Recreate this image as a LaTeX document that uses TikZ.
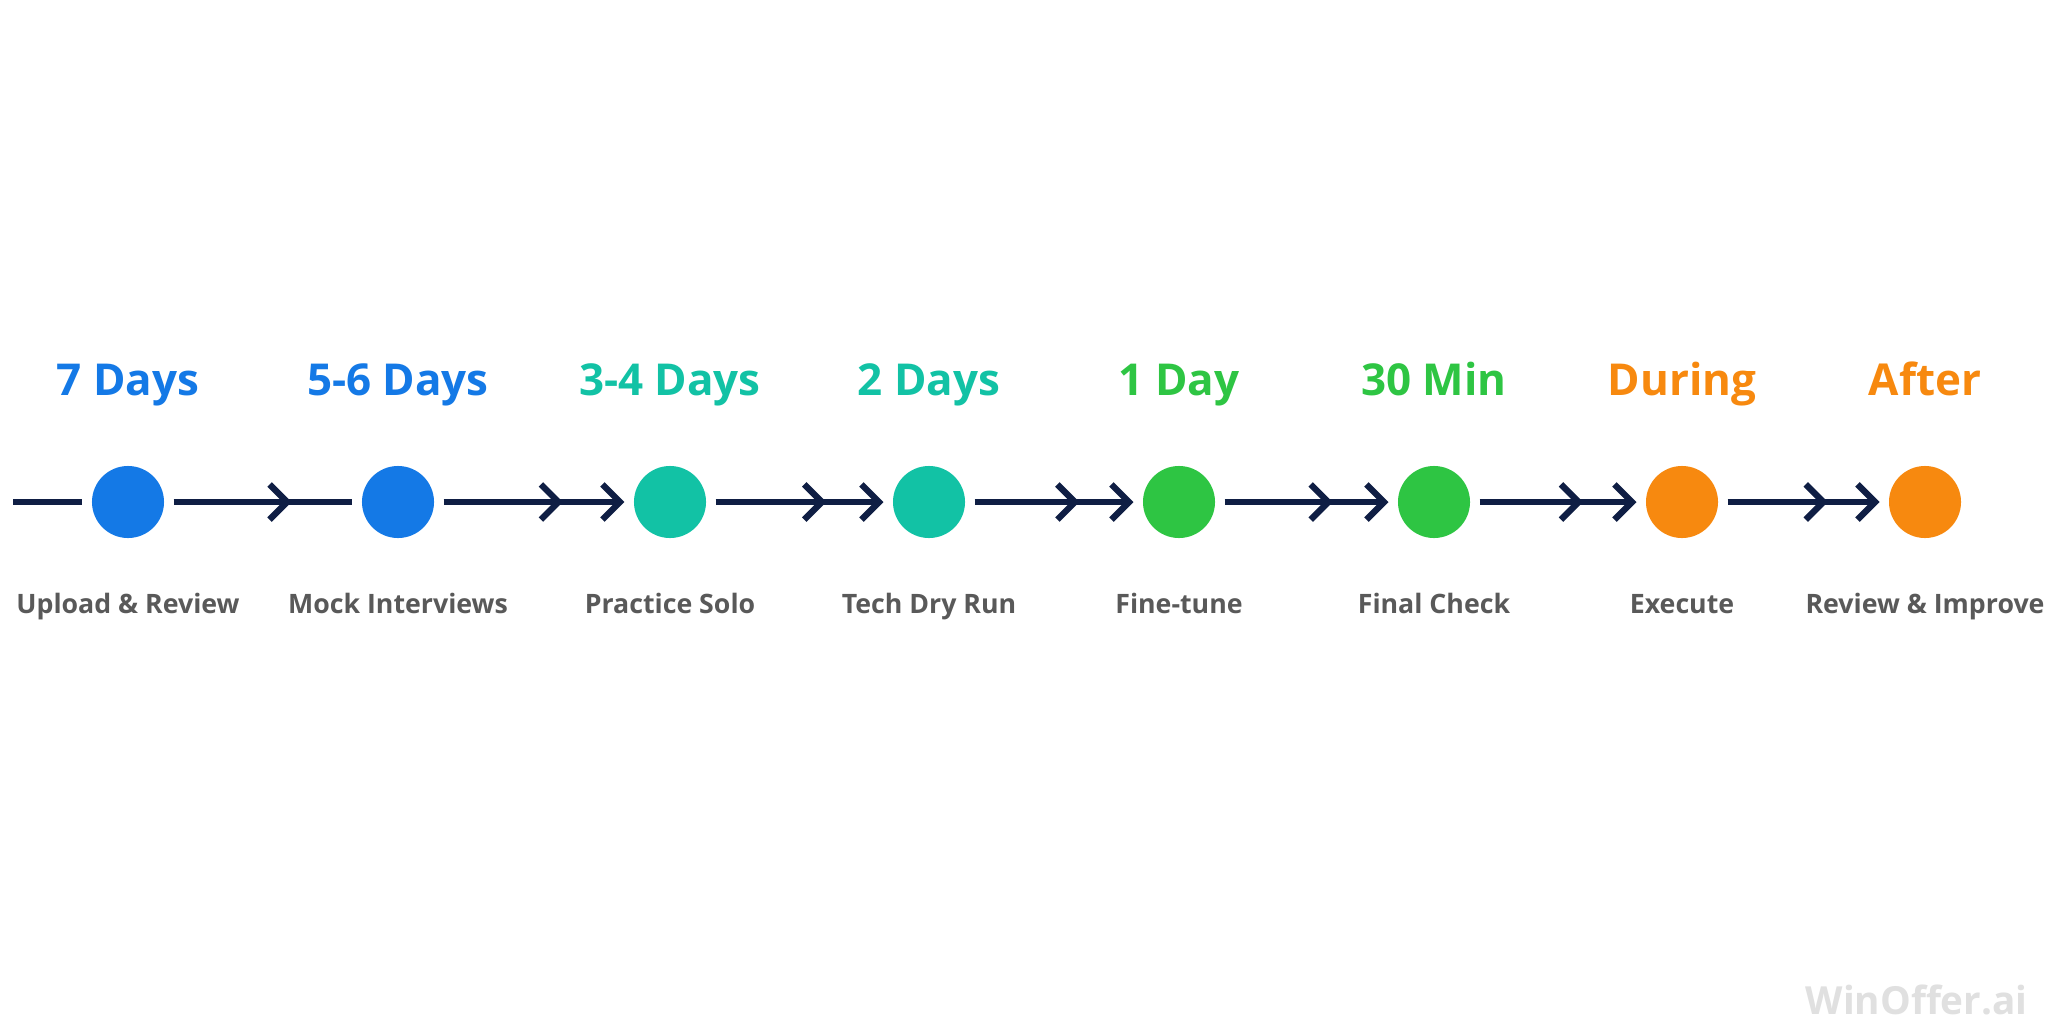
\documentclass[tikz,border=0pt]{standalone}
\usepackage{fontspec}
\setmainfont{Open Sans}
\usetikzlibrary{arrows.meta, decorations.markings}
\definecolor{cblue}{HTML}{1479E6}
\definecolor{cteal}{HTML}{12C2A5}
\definecolor{cgreen}{HTML}{2EC543}
\definecolor{corange}{HTML}{F7890F}
\definecolor{navy}{HTML}{0F1E44}
\tikzset{
  stage/.style={circle, minimum size=0.72cm, inner sep=0pt, fill=#1},
  when/.style={font=\fontsize{12.5}{14}\selectfont\bfseries, text=#1, anchor=base},
  task/.style={font=\fontsize{7.6}{9}\selectfont\bfseries, text=black!65, anchor=base},
  link/.style={line width=1.8pt, draw=navy, decoration={markings,
      mark=at position 0.66 with {\arrow{Straight Barb[length=5pt,width=10pt]}}},
    postaction={decorate}},
  tip/.style={-{Straight Barb[length=5pt,width=10pt]}}
}
\begin{document}
\begin{tikzpicture}[x=0.01cm, y=-0.01cm]
\useasboundingbox (0,0) rectangle (2048,1024);
\fill[white] (0,0) rectangle (2048,1024);

\coordinate (start) at (13,502);
\foreach \n/\x/\c/\t/\l in {
  1/128/cblue/7 Days/Upload \& Review,
  2/398/cblue/5-6 Days/Mock Interviews,
  3/670/cteal/3-4 Days/Practice Solo,
  4/929/cteal/2 Days/Tech Dry Run,
  5/1179/cgreen/1 Day/Fine-tune,
  6/1434/cgreen/30 Min/Final Check,
  7/1682/corange/During/Execute,
  8/1925/corange/After/Review \& Improve}{
  \node (s\n) [stage=\c] at (\x,502) {};
  \node (w\n) [when=\c] at (\x,395) {\t};
  \node (t\n) [task] at (\x,613) {\l};
}

\draw [line width=1.8pt, draw=navy] (start) -- ([xshift=-2.5pt]s1.west);
\draw [link] ([xshift=2.5pt]s1.east) -- ([xshift=-2.5pt]s2.west);
\foreach \a/\b in {2/3,3/4,4/5,5/6,6/7,7/8}
  \draw [link, tip] ([xshift=2.5pt]s\a.east) -- ([xshift=-2.5pt]s\b.west);

\node (mark) [font=\fontsize{11}{13}\selectfont\bfseries, text=black!12, anchor=east] at (2040,1000) {WinOffer.ai};
\end{tikzpicture}
\end{document}
